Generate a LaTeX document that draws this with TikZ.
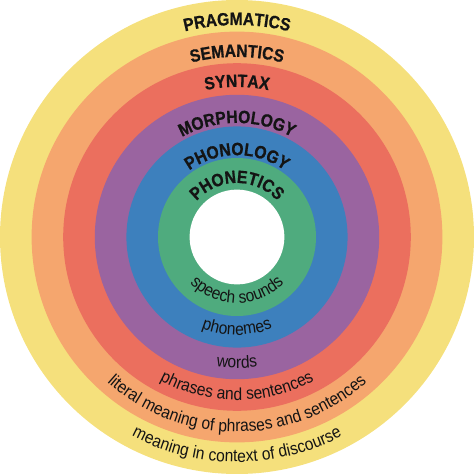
\documentclass[tikz,border=0pt]{standalone}
\usepackage{fontspec}
\setmainfont{Liberation Sans}
\newfontfamily\ringfont[FakeStretch=0.9]{Liberation Sans}
\newfontfamily\levelfont[FakeStretch=0.88,FakeBold=0.8]{Liberation Sans Bold}
\usetikzlibrary{decorations.text}
\definecolor{ringyellow}{HTML}{F5E07C}
\definecolor{ringorange}{HTML}{F5A66E}
\definecolor{ringred}{HTML}{EB6F5E}
\definecolor{ringpurple}{HTML}{9A64A0}
\definecolor{ringblue}{HTML}{3D80BD}
\definecolor{ringgreen}{HTML}{4FAB7E}
\definecolor{labelink}{HTML}{141414}

\begin{document}
\begin{tikzpicture}
\tikzset{
top label/.style={decorate,decoration={text along path,text align=center,
  text color=labelink,text={|\levelfont\fontsize{16}{18}\selectfont|#1}}},
bottom label/.style={decorate,decoration={text along path,text align=center,
  text color=labelink,text={|\ringfont\fontsize{15.6}{17}\selectfont|#1}}}
}
\useasboundingbox (-7.5,-7.5) rectangle (7.5,7.5);
\coordinate (centre) at (0,0);
% the rings, outside in
\fill[ringyellow] (centre) circle (7.5);
\fill[ringorange] (centre) circle (6.5);
\fill[ringred] (centre) circle (5.5);
\fill[ringpurple] (centre) circle (4.5);
\fill[ringblue] (centre) circle (3.5);
\fill[ringgreen] (centre) circle (2.5);
\fill[white] (centre) circle (1.5);
% names of the levels, over the top
\path[top label=PRAGMATICS] (180:6.71) arc[start angle=180,end angle=0,radius=6.71];
\path[top label=SEMANTICS] (180:5.70) arc[start angle=180,end angle=0,radius=5.70];
\path[top label=SYNTAX] (180:4.75) arc[start angle=180,end angle=0,radius=4.75];
\path[top label=MORPHOLOGY] (180:3.61) arc[start angle=180,end angle=0,radius=3.61];
\path[top label=PHONOLOGY] (180:2.59) arc[start angle=180,end angle=0,radius=2.59];
\path[top label=PHONETICS] (180:1.71) arc[start angle=180,end angle=0,radius=1.71];
% what each level is about, under the bottom
\path[bottom label=meaning in context of discourse] (180:7.12) arc[start angle=180,end angle=360,radius=7.12];
\path[bottom label=literal meaning of phrases and sentences] (180:6.17) arc[start angle=180,end angle=360,radius=6.17];
\path[bottom label=phrases and sentences] (180:5.16) arc[start angle=180,end angle=360,radius=5.16];
\path[bottom label=words] (180:4.15) arc[start angle=180,end angle=360,radius=4.15];
\path[bottom label=phonemes] (180:3.10) arc[start angle=180,end angle=360,radius=3.10];
\path[bottom label=speech sounds] (180:2.09) arc[start angle=180,end angle=360,radius=2.09];
\end{tikzpicture}
\end{document}
